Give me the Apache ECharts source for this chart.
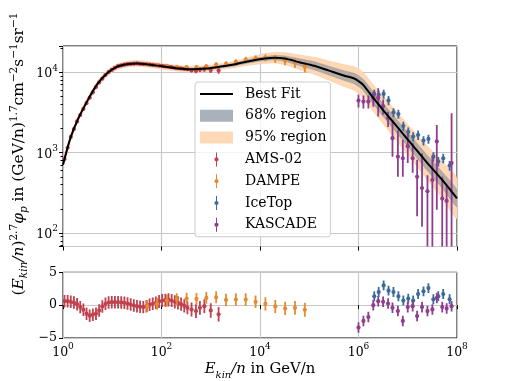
<!DOCTYPE html>
<html><head><meta charset="utf-8">
<script src="https://cdn.jsdelivr.net/npm/echarts@6/dist/echarts.min.js"></script>
<style>html,body{margin:0;padding:0;background:#fff}#c{width:508px;height:381px}</style>
</head><body><div id="c"></div>
<script>
// ---------- data ----------
const fitE = [1, 1.413, 1.995, 3.162, 5.012, 7.943, 12.59, 19.95, 31.62, 50.12, 100, 199.5, 398.1, 794.3, 1585, 3162, 6310, 12590, 19950, 31620, 63100, 125900, 251200, 501200, 794300, 1.0e6, 1.259e6, 1.995e6, 3.162e6, 6.31e6, 1.259e7, 2.512e7, 5.012e7, 1.0e8];
const fitF = [708, 1514, 2570, 4467, 7161, 9772, 11749, 12589, 12882, 12589, 11885, 11220, 10889, 11092, 11749, 12589, 13804, 14791, 15136, 14791, 13335, 12023, 10471, 9120, 8414, 7762, 6918, 4786, 3388, 2042, 1230, 741, 457, 269];
const lo95 = [653, 1397, 2372, 4123, 6610, 9020, 10844, 11620, 11890, 11620, 10970, 10356, 10051, 10238, 10844, 11481, 12299, 12883, 13032, 12439, 10841, 9438, 7947, 6685, 6024, 5495, 4843, 3274, 2290, 1350, 795, 457, 269, 151];
const hi95 = [767, 1641, 2786, 4842, 7763, 10593, 12736, 13646, 13964, 13646, 12883, 12162, 11804, 12024, 12736, 13798, 15488, 16980, 17573, 17587, 16402, 15317, 13801, 12449, 11746, 10968, 9886, 6997, 5011, 3092, 1905, 1202, 776, 478];
const lo68 = [684, 1462, 2483, 4315, 6918, 9440, 11350, 12161, 12444, 12161, 11481, 10839, 10519, 10715, 11350, 12073, 13128, 13963, 14198, 13711, 12108, 10712, 9225, 7944, 7244, 6637, 5887, 4025, 2819, 1679, 1000, 595, 363, 211];
const hi68 = [733, 1567, 2660, 4623, 7412, 10114, 12160, 13030, 13333, 13030, 12301, 11613, 11270, 11480, 12160, 13118, 14522, 15664, 16150, 15960, 14695, 13490, 11885, 10470, 9769, 9074, 8129, 5691, 4072, 2483, 1513, 923, 575, 343];

const amsE = [1.072, 1.242, 1.439, 1.667, 1.932, 2.239, 2.594, 3.006, 3.483, 4.036, 4.677, 5.420, 6.281, 7.278, 8.433, 9.772, 11.32, 13.12, 15.21, 17.62, 20.42, 23.66, 27.42, 31.77, 36.81, 42.66, 49.43, 57.28, 66.37, 76.91, 89.13, 103.3, 119.7, 138.7, 160.7, 186.2, 215.8, 250.0, 289.7, 335.7, 407.4, 501.2, 602.6, 741.3, 1000, 1445];
const amsF = [831, 1150, 1568, 1962, 2448, 2938, 3487, 4125, 4814, 5616, 6538, 7460, 8312, 9232, 10060, 10689, 11348, 11910, 12154, 12424, 12650, 12715, 12780, 12853, 12733, 12637, 12570, 12459, 12334, 12211, 12099, 11982, 11843, 11708, 11547, 11372, 11242, 11138, 11024, 10904, 10570, 10414, 10796, 10966, 10629, 10495];
const amsErr = [21, 29, 39, 49, 61, 73, 87, 103, 120, 140, 163, 187, 208, 231, 252, 267, 284, 298, 304, 311, 316, 318, 320, 321, 318, 316, 314, 311, 308, 305, 363, 384, 403, 422, 439, 455, 472, 490, 507, 523, 634, 666, 734, 790, 819, 913];
const amsRes = [0.6, 0.6, 0.5, 0.4, 0.15, -0.3, -0.7, -1.3, -1.6, -1.45, -1.3, -0.8, -0.2, 0.2, 0.4, 0.45, 0.45, 0.45, 0.42, 0.35, 0.25, 0.1, -0.05, -0.15, -0.25, -0.3, -0.15, 0.05, 0.2, 0.35, 0.55, 0.7, 0.75, 0.8, 0.7, 0.5, 0.35, 0.15, -0.1, -0.4, -0.66, -0.9, -0.4, -0.15, -0.8, -1.4];
const amsResErr = [0.95, 0.95, 0.95, 0.95, 0.95, 0.95, 0.95, 0.95, 0.95, 0.95, 0.95, 0.95, 0.95, 0.95, 0.95, 0.95, 0.95, 0.95, 0.95, 0.95, 0.95, 0.95, 0.95, 0.95, 0.95, 0.95, 0.95, 0.95, 0.95, 0.95, 1.0, 1.0, 1.0, 1.0, 1.0, 1.0, 1.0, 1.0, 1.0, 1.0, 1.05, 1.05, 1.05, 1.05, 1.1, 1.1];

const dampeE = [51.3, 81.3, 128.8, 204.2, 323.6, 512.9, 812.8, 1288, 2042, 3236, 5129, 8128, 12882, 20417, 32359, 51286, 81283];
const dampeF = [12480, 12203, 12016, 11683, 11557, 11552, 11867, 12477, 12735, 13443, 14382, 14852, 15097, 14800, 13915, 13080, 11655];
const dampeErr = [590, 574, 565, 549, 601, 658, 736, 836, 917, 1035, 1208, 1352, 1540, 1658, 1698, 1766, 1725];
const dampeRes = [-0.15, 0.2, 0.7, 0.9, 1.0, 0.95, 1.1, 1.2, 0.8, 0.85, 0.85, 0.5, 0.2, -0.2, -0.5, -0.4, -0.7];
const dampeResErr = [0.9, 0.9, 0.9, 0.9, 0.9, 0.9, 0.9, 0.9, 0.95, 0.95, 0.95, 0.95, 1.0, 1.0, 1.0, 1.05, 1.05];

const iceE = [2.09e6, 2.57e6, 3.24e6, 4.07e6, 5.13e6, 6.46e6, 8.13e6, 1.023e7, 1.288e7, 1.622e7, 2.089e7, 2.63e7, 3.31e7, 4.17e7, 5.25e7, 7.08e7];
const iceF = [5370, 5248, 5370, 4467, 3162, 3020, 2138, 1820, 1585, 1660, 1413, 1479, 891, 776, 851, 692];
const iceErr = [700, 680, 700, 580, 410, 390, 280, 240, 210, 220, 185, 190, 120, 105, 115, 95];
const iceRes = [1.35, 2.0, 3.0, 2.2, 2.0, 1.35, 0.7, 1.0, 0.7, 1.7, 2.1, 2.6, 0.9, 1.35, 1.7, 0.9];
const iceResErr = [0.75, 0.75, 0.75, 0.75, 0.75, 0.75, 0.75, 0.75, 0.75, 0.75, 0.75, 0.75, 0.75, 0.75, 0.75, 0.75];

const kasE = [1.0e6, 1.259e6, 1.585e6, 1.995e6, 2.512e6, 3.162e6, 3.981e6, 4.898e6, 6.31e6, 7.943e6, 1.0e7, 1.259e7, 1.549e7, 1.95e7, 2.512e7, 3.162e7, 3.89e7, 5.012e7, 6.166e7, 7.762e7];
const kasF = [4436, 4315, 4315, 4786, 4786, 3802, 2692, 1514, 891, 851, 1202, 851, 501, 363, 331, 457, 1380, 269, 251, 741];
const kasLo = [3631, 3548, 3548, 3715, 2818, 2951, 2089, 891, 501, 501, 741, 562, 162, 120, 1, 1, 195, 1, 1, 1];
const kasHi = [5248, 5129, 5129, 5754, 6310, 4571, 3236, 2570, 1905, 1445, 1738, 1318, 813, 977, 525, 891, 2213, 501, 380, 3090];
const kasRes = [-3.4, -2.4, -1.8, 0, 0.6, 0.5, 0.25, -0.4, -0.9, -2.4, -0.3, -0.15, -1.65, -0.3, -0.9, -0.65, 1.1, -0.3, -0.5, -0.15];
const kasResErr = [0.8, 0.8, 0.8, 0.8, 0.8, 0.8, 0.8, 0.8, 0.8, 0.8, 0.8, 0.8, 0.8, 0.8, 0.8, 0.8, 0.8, 0.8, 0.8, 0.8];

// ---------- styles ----------
const FONT = 'DejaVu Serif';
const FS = 14.8;      // axis titles
const FL = 14;        // legend
const FY = 15.4;      // y title
const FT = 12.5;      // tick labels
const FSUP = 9;
const C_AMS = '#c0414f', C_DAMPE = '#e58a2e', C_ICE = '#3b6a9a', C_KAS = '#8e3d8f';
const C95 = '#ffd8b6', C68 = 'rgba(120,135,150,0.55)';
const supRich = {
  b: {fontFamily: FONT, fontSize: FT, lineHeight: 17, verticalAlign: 'bottom', color: '#000'},
  s: {fontFamily: FONT, fontSize: FSUP, lineHeight: 10, verticalAlign: 'top', color: '#000'}
};
function powLabel(v) {
  const e = Math.log10(v);
  if (Math.abs(e - Math.round(e)) > 1e-3) return '';
  return '{b|10}{s|' + Math.round(e) + '}';
}

function errRender(params, api) {
  const x = api.value(0), y = api.value(1), lo = api.value(2), hi = api.value(3);
  const p = api.coord([x, y]), a = api.coord([x, lo]), b = api.coord([x, hi]);
  const color = api.visual('color');
  return {type: 'group', children: [
    {type: 'line', shape: {x1: p[0], y1: a[1], x2: p[0], y2: b[1]}, style: {stroke: color, lineWidth: 1.8}},
    {type: 'circle', shape: {cx: p[0], cy: p[1], r: 2.1}, style: {fill: color}}
  ]};
}
function bandRender(lo, hi, fill, stroke) {
  return function (params, api) {
    const pts = [];
    for (let i = 0; i < fitE.length; i++) pts.push(api.coord([fitE[i], hi[i]]));
    for (let i = fitE.length - 1; i >= 0; i--) pts.push(api.coord([fitE[i], lo[i]]));
    return {type: 'polygon', shape: {points: pts, smooth: 0.2}, style: {fill: fill, stroke: stroke, lineWidth: 0.6}};
  };
}
const sym = (E, F, Err) => E.map((e, i) => [e, F[i], F[i] - Err[i], F[i] + Err[i]]);
const asym = (E, F, Lo, Hi) => E.map((e, i) => [e, F[i], Lo[i], Hi[i]]);

function errSeries(name, color, data, xi, opacity) {
  return {
    name: name, type: 'custom', xAxisIndex: xi, yAxisIndex: xi, clip: true,
    renderItem: errRender, itemStyle: {color: color, opacity: opacity},
    encode: {x: 0, y: [1, 2, 3]}, data: data, z: 4
  };
}

const errIcon = 'path://M2,0L3,0L3,14L2,14Z M4.6,7A2.1,2.1,0,1,1,0.4,7A2.1,2.1,0,1,1,4.6,7Z';

const chart = echarts.init(document.getElementById('c'), null, {renderer: 'canvas'});
const gridCommon = {show: true, borderColor: '#000', borderWidth: 1, backgroundColor: 'transparent', containLabel: false};
const splitL = {show: true, lineStyle: {color: '#c6c6c6', width: 1.1}};
const tickL = {show: true, inside: false, length: 4, lineStyle: {color: '#000', width: 1}};

chart.setOption({
  animation: false,
  textStyle: {fontFamily: FONT},
  grid: [
    Object.assign({left: 63, top: 46, width: 394, height: 200.5}, gridCommon),
    Object.assign({left: 63, top: 272.3, width: 394, height: 66}, gridCommon)
  ],
  xAxis: [
    {type: 'log', logBase: 100, gridIndex: 0, min: 1, max: 1e8,
     axisLine: {show: false}, axisTick: tickL, axisLabel: {show: false}, splitLine: splitL},
    {type: 'log', logBase: 100, gridIndex: 1, min: 1, max: 1e8,
     axisLine: {show: false}, axisTick: tickL, splitLine: splitL,
     axisLabel: {formatter: powLabel, rich: supRich, margin: 4},
     name: '{i|E}{is|kin}{i|/n}{r| in GeV/n}', nameLocation: 'middle', nameGap: 24,
     nameTextStyle: {rich: {
       i: {fontFamily: FONT, fontSize: FS, fontStyle: 'italic', lineHeight: 18, verticalAlign: 'top', color: '#000'},
       is: {fontFamily: FONT, fontSize: 10, fontStyle: 'italic', lineHeight: 10, verticalAlign: 'bottom', color: '#000'},
       r: {fontFamily: FONT, fontSize: FS, lineHeight: 18, verticalAlign: 'top', color: '#000'}
     }}}
  ],
  yAxis: [
    {type: 'log', logBase: 10, gridIndex: 0, min: 68, max: 21200,
     axisLine: {show: false}, axisTick: tickL, splitLine: splitL,
     minorTick: {show: true, splitNumber: 9, length: 2.5, lineStyle: {color: '#000'}},
     axisLabel: {formatter: powLabel, rich: supRich, margin: 5, showMinLabel: false, showMaxLabel: false}},
    {type: 'value', gridIndex: 1, min: -5, max: 5, interval: 5,
     axisLine: {show: false}, axisTick: tickL, splitLine: splitL,
     axisLabel: {fontFamily: FONT, fontSize: FT, color: '#000', margin: 6,
                 formatter: v => (v < 0 ? '\u2212' + Math.abs(v) : String(v))}}
  ],
  legend: {
    orient: 'vertical', left: 195, top: 82,
    padding: [5, 4, 5, 5], itemWidth: 33, itemHeight: 14, itemGap: 7.8,
    backgroundColor: 'rgba(255,255,255,0.8)', borderColor: '#cccccc', borderWidth: 1, borderRadius: 3,
    textStyle: {fontFamily: FONT, fontSize: FL, color: '#000', lineHeight: 14, padding: [0, 0, 0, 7]},
    data: [
      {name: 'Best Fit', icon: 'path://M0,0L33,0L33,2L0,2Z'},
      {name: '68% region', icon: 'path://M0,0L33,0L33,12L0,12Z'},
      {name: '95% region', icon: 'path://M0,0L33,0L33,12L0,12Z'},
      {name: 'AMS-02', icon: errIcon},
      {name: 'DAMPE', icon: errIcon},
      {name: 'IceTop', icon: errIcon},
      {name: 'KASCADE', icon: errIcon}
    ],
    z: 10
  },
  graphic: [{
    type: 'text', x: 19, y: 154, rotation: Math.PI / 2, z: 10,
    style: {
      text: '({i|E}{is|kin}{i|/n}){s|2.7}{i|\u03c6}{is|p}{r| in (GeV/n)}{s|1.7}{r|cm}{s|\u22122}{r|s}{s|\u22121}{r|sr}{s|\u22121}',
      align: 'center', verticalAlign: 'middle', fill: '#000', fontFamily: FONT, fontSize: FY,
      rich: {
        i: {fontFamily: FONT, fontSize: FY, fontStyle: 'italic', lineHeight: 21, verticalAlign: 'middle', fill: '#000'},
        is: {fontFamily: FONT, fontSize: 10.5, fontStyle: 'italic', lineHeight: 10, verticalAlign: 'bottom', fill: '#000'},
        r: {fontFamily: FONT, fontSize: FY, lineHeight: 21, verticalAlign: 'middle', fill: '#000'},
        s: {fontFamily: FONT, fontSize: 10.5, lineHeight: 10, verticalAlign: 'top', fill: '#000'}
      }
    }
  }],
  series: [
    {name: '95% region', type: 'custom', xAxisIndex: 0, yAxisIndex: 0, clip: true, z: 1,
     itemStyle: {color: C95}, renderItem: bandRender(lo95, hi95, C95, 'rgba(255,200,160,0.9)'),
     data: [[fitE[0], fitF[0]]]},
    {name: '68% region', type: 'custom', xAxisIndex: 0, yAxisIndex: 0, clip: true, z: 2,
     itemStyle: {color: '#a9b2bb'}, renderItem: bandRender(lo68, hi68, C68, 'rgba(120,135,150,0.6)'),
     data: [[fitE[0], fitF[0]]]},
    errSeries('AMS-02', C_AMS, sym(amsE, amsF, amsErr), 0, 1),
    errSeries('DAMPE', C_DAMPE, sym(dampeE, dampeF, dampeErr), 0, 1),
    errSeries('IceTop', C_ICE, sym(iceE, iceF, iceErr), 0, 1),
    errSeries('KASCADE', C_KAS, asym(kasE, kasF, kasLo, kasHi), 0, 1),
    {name: 'Best Fit', type: 'line', xAxisIndex: 0, yAxisIndex: 0, z: 6,
     showSymbol: false, smooth: 0.25, lineStyle: {color: '#000', width: 2}, itemStyle: {color: '#000'},
     data: fitE.map((e, i) => [e, fitF[i]])},
    errSeries('AMS-02', C_AMS, sym(amsE, amsRes, amsResErr), 1, 0.85),
    errSeries('DAMPE', C_DAMPE, sym(dampeE, dampeRes, dampeResErr), 1, 0.85),
    errSeries('IceTop', C_ICE, sym(iceE, iceRes, iceResErr), 1, 0.85),
    errSeries('KASCADE', C_KAS, sym(kasE, kasRes, kasResErr), 1, 0.85)
  ]
});
</script></body></html>
